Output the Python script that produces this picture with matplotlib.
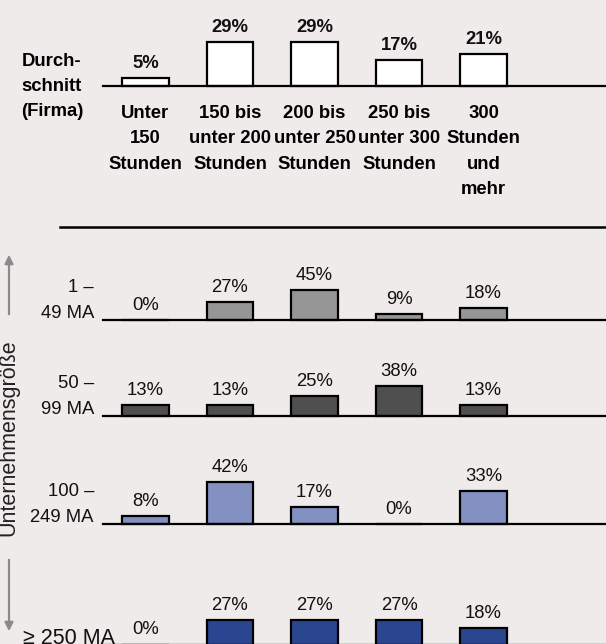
import numpy as np
import matplotlib.pyplot as plt
from matplotlib.lines import Line2D
from matplotlib.patches import FancyArrowPatch

plt.rcParams['font.family'] = ['Liberation Sans', 'DejaVu Sans']

# categories and values
categories = ["Unter\n150\nStunden", "150 bis\nunter 200\nStunden", "200 bis\nunter 250\nStunden",
              "250 bis\nunter 300\nStunden", "300\nStunden\nund\nmehr"]
avg_firm = [5, 29, 29, 17, 21]
groups = ["1 –\n49 MA", "50 –\n99 MA", "100 –\n249 MA", "≥ 250 MA"]
share_1_49 = [0, 27, 45, 9, 18]
share_50_99 = [13, 13, 25, 38, 13]
share_100_249 = [8, 42, 17, 0, 33]
share_250 = [0, 27, 27, 27, 18]

W, H = 606, 644
bg = '#EEEBEA'
fig = plt.figure(figsize=(W / 100, H / 100), dpi=100, facecolor=bg)


def fx(x):
    return x / W


def fy(y):
    return 1 - y / H


x = np.arange(len(categories))
ax_left, ax_right = 103, 606
xmin = (ax_left - 145.5) / 84.5
xmax = (ax_right - 145.5) / 84.5
fs = 13.3
ls = 1.65


def make_panel(base_px, px_per_pct, values, color, bold=False, height_px=60):
    ax = fig.add_axes([fx(ax_left), fy(base_px), (ax_right - ax_left) / W, height_px / H])
    ax.set_facecolor('none')
    ax.bar(x, values, width=0.55, color=color, edgecolor='black', linewidth=1.6, clip_on=False)
    ax.set_xlim(xmin, xmax)
    ax.set_ylim(0, height_px / px_per_pct)
    for s in ['top', 'left', 'right']:
        ax.spines[s].set_visible(False)
    ax.spines['bottom'].set_linewidth(1.6)
    ax.set_xticks([])
    ax.set_yticks([])
    for i, v in enumerate(values):
        ax.annotate(f"{v}%", (i, v), xytext=(0, 6), textcoords='offset pixels',
                    ha='center', va='bottom', fontsize=13.3,
                    fontweight='bold' if bold else 'normal', color='#111111',
                    annotation_clip=False)
    return ax


# top panel: company average
ax_top = make_panel(86, 1.53, avg_firm, 'white', bold=True)
for i, lab in enumerate(categories):
    ax_top.annotate(lab, (i, 0), xytext=(0, -19), textcoords='offset pixels',
                    ha='center', va='top', fontsize=fs, fontweight='bold',
                    linespacing=ls, annotation_clip=False)
fig.text(fx(52), fy(52.5), "Durch-\nschnitt\n(Firma)", ha='center', va='top',
         fontsize=fs, fontweight='bold', linespacing=ls)

# separator line
fig.add_artist(Line2D([fx(60), fx(606)], [fy(227), fy(227)], color='black', linewidth=1.8))

# company size panels
bases = [319.5, 415.7, 523.7, 644.5]
scales = [0.66, 0.79, 1.0, 0.9]
colors = ['#969696', '#4F4F4F', '#8291C1', '#2B4690']
shares = [share_1_49, share_50_99, share_100_249, share_250]
for lab, base, sc, col, vals in zip(groups, bases, scales, colors, shares):
    make_panel(base, sc, vals, col)
    if '\n' in lab:
        fig.text(fx(94), fy(base - 2), lab, ha='right', va='baseline', fontsize=fs,
                 linespacing=ls, color='#111111')
    else:
        fig.text(fx(23), fy(base - 1), lab, ha='left', va='baseline', fontsize=15.5,
                 color='#111111')

# vertical axis label with arrows
fig.text(fx(9), fy(438), "Unternehmensgröße", rotation=90, ha='center', va='center',
         fontsize=15.5, color='#222222')
arrow_col = '#8A8A8A'
fig.add_artist(FancyArrowPatch(
    (fx(9), fy(317)), (fx(9), fy(252)), transform=fig.transFigure,
    arrowstyle='-|>,head_length=5,head_width=2.5', color=arrow_col, linewidth=1.6))
fig.add_artist(FancyArrowPatch(
    (fx(9), fy(557)), (fx(9), fy(634)), transform=fig.transFigure,
    arrowstyle='-|>,head_length=5,head_width=2.5', color=arrow_col, linewidth=1.6))

fig.savefig('out.png', dpi=100, facecolor=bg)
